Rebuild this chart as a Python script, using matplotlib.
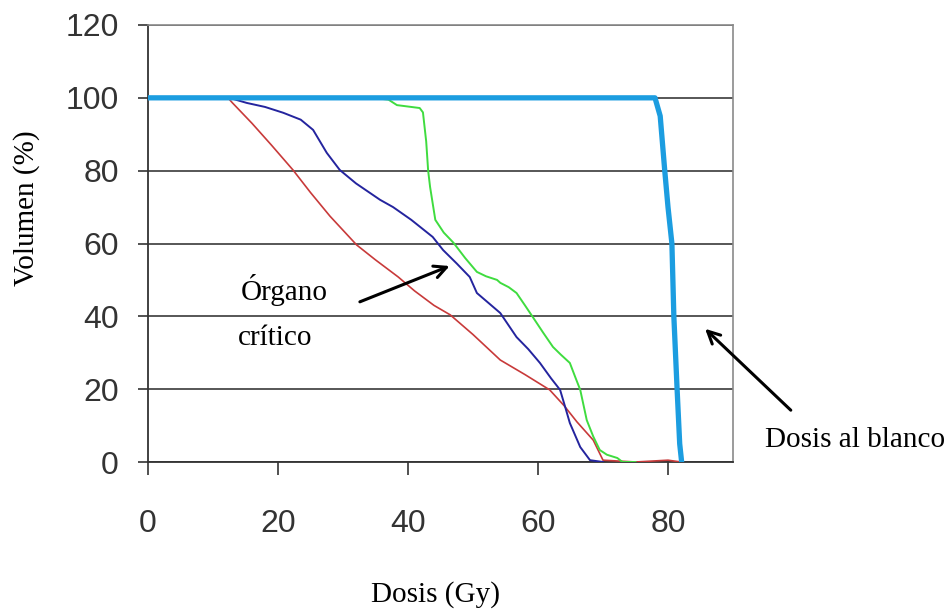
import matplotlib
matplotlib.use("Agg")
import matplotlib.pyplot as plt

# DVH curves (dose in Gy, volume in %)
target_dose = [0, 78, 78.8, 79.5, 80.0, 80.6, 80.9, 81.4, 81.8, 82.1]
target_vol = [100, 100, 95, 80, 70, 60, 40, 20, 5, 0]

red_dose = [12.3, 13, 16, 19, 22.3, 25, 28, 32.1, 35, 38.5, 41, 44, 46.5, 50,
            54.2, 58, 61.8, 64, 66, 68.5, 70, 75, 80, 82]
red_vol = [100, 98.6, 93, 87, 80.2, 74, 67.5, 59.6, 55.5, 50.8, 47, 43, 40.4, 35,
           28, 24, 19.8, 15.5, 11, 6, 0.5, 0, 0.5, 0]

navy_dose = [12.5, 15.2, 18, 20.8, 23.5, 25.4, 27.5, 29.5, 32, 35.7, 37.7, 40.5,
             43.8, 45.4, 47.5, 49.5, 50.6, 52.5, 54.2, 56.7, 58.5, 60.3, 62, 63.4,
             64.2, 64.9, 66.5, 68, 70]
navy_vol = [100, 98.6, 97.5, 95.9, 94, 91.2, 84.9, 80.2, 76.5, 72, 70, 66.5,
            61.8, 58.2, 54.5, 50.8, 46.4, 43.5, 40.9, 34.3, 31, 27.2, 23, 19.8,
            15, 10.7, 4.1, 0.5, 0]

green_dose = [34.5, 37, 38.3, 41.8, 42.3, 42.8, 43.1, 43.4, 44.2, 45.5, 47, 48.8,
              50.6, 52, 53.7, 54.2, 55.5, 56.7, 58, 59.2, 60.8, 62.3, 63.5, 64.9,
              65.8, 66.5, 67.5, 68.5, 69.5, 70.6, 72.2, 73, 75]
green_vol = [100, 99.5, 98, 97.2, 96, 88, 80, 75.5, 66.5, 63, 60.2, 56,
             52.2, 51, 50, 49.2, 48, 46.4, 43, 39.8, 35.5, 31.6, 29.5, 27.2,
             23, 19.8, 11.5, 7, 3.3, 2, 1.1, 0, 0]

x_ticks = [0, 20, 40, 60, 80]
y_ticks = [0, 20, 40, 60, 80, 100, 120]

serif = "Liberation Serif"
sans = "Liberation Sans"

fig = plt.figure(figsize=(9.52, 6.09), dpi=100)
ax = fig.add_axes([148 / 952, 1 - 462 / 609, 585 / 952, 437 / 609])

ax.set_xlim(0, 90)
ax.set_ylim(0, 120)
ax.set_xticks(x_ticks)
ax.set_yticks(y_ticks)
ax.yaxis.grid(True, color="#3a3a3a", linewidth=1.2)
ax.set_axisbelow(True)

ax.plot(red_dose, red_vol, color="#c83a3a", linewidth=1.2, zorder=3)
ax.plot(green_dose, green_vol, color="#3fdc3f", linewidth=1.4, zorder=3)
ax.plot(navy_dose, navy_vol, color="#24249e", linewidth=1.4, zorder=4)
ax.plot(target_dose, target_vol, color="#1c9de0", linewidth=3.8, zorder=5)

for side in ["top", "right"]:
    ax.spines[side].set_color("#8a8a8a")
    ax.spines[side].set_linewidth(1.2)
ax.spines["left"].set_color("#333333")
ax.spines["left"].set_linewidth(1.3)
ax.spines["bottom"].set_color("#333333")
ax.spines["bottom"].set_linewidth(1.3)

ax.tick_params(axis="y", direction="out", length=7, width=1.2, pad=14,
               labelsize=23, colors="#333333")
ax.tick_params(axis="x", direction="out", length=9, width=1.2, pad=25,
               labelsize=23, colors="#333333")
for lab in ax.get_xticklabels() + ax.get_yticklabels():
    lab.set_fontfamily(sans)

ax.set_xlabel("Dosis (Gy)", fontfamily=serif, fontsize=21)
ax.set_ylabel("Volumen (%)", fontfamily=serif, fontsize=21)
ax.xaxis.label.set_va("center")
ax.yaxis.label.set_va("center")
ax.xaxis.set_label_coords(0.492, -0.304)
ax.yaxis.set_label_coords(-0.207, 0.581)

ax.text(14.2, 47.3, "Órgano", fontfamily=serif, fontsize=21, va="center", ha="left")
ax.text(13.8, 34.1, "crítico", fontfamily=serif, fontsize=21, va="center", ha="left")
ax.annotate("", xy=(46.8, 54.1), xytext=(32.2, 43.7),
            arrowprops=dict(arrowstyle="->", color="black", lw=2.2, mutation_scale=22),
            zorder=6)

ax.text(94.9, 6.0, "Dosis al blanco", fontfamily=serif, fontsize=21,
        va="center", ha="left", clip_on=False)
ax.annotate("", xy=(85.4, 37.1), xytext=(99.2, 13.7),
            arrowprops=dict(arrowstyle="->", color="black", lw=2.2, mutation_scale=22),
            annotation_clip=False, zorder=6)

fig.savefig("out.png", dpi=100)
